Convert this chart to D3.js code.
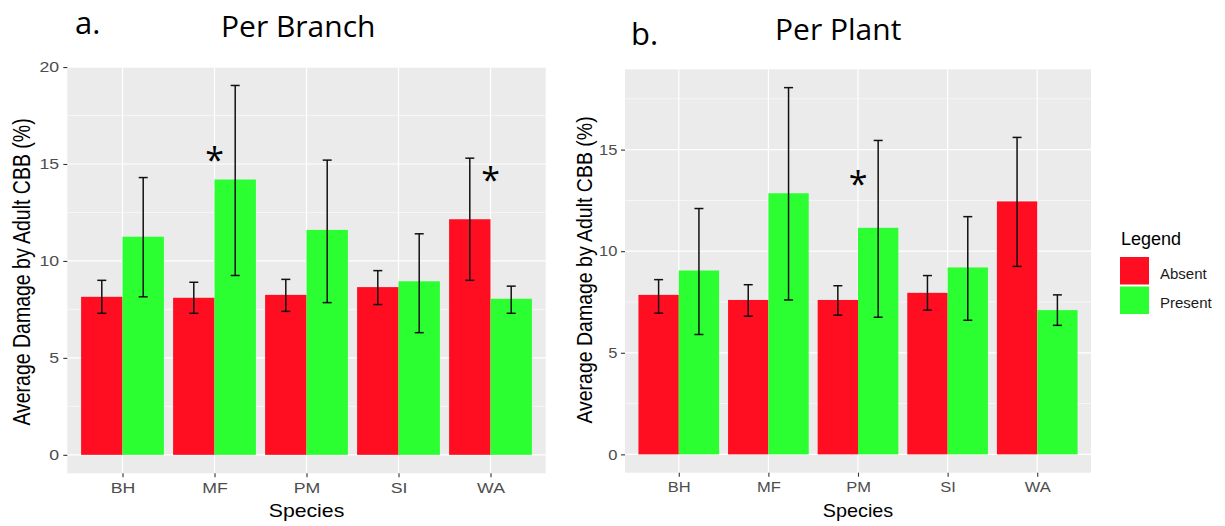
<!DOCTYPE html>
<html>
<head>
<meta charset="utf-8">
<script src="https://cdn.jsdelivr.net/npm/d3@7"></script>
<style>
  body { margin: 0; background: #fff; }
  svg { display: block; }
  .tick text { font-family: "Liberation Sans", Arial, sans-serif; fill: #4d4d4d; }
  .tick line { stroke: #333; }
  .domain { display: none; }
</style>
</head>
<body>
<svg id="chart" width="1225" height="526"></svg>
<script>
// categories and groups
var species = ['BH', 'MF', 'PM', 'SI', 'WA'];
var groups = ['Absent', 'Present'];
var colors = ['#ff0d21', '#2bff32'];

// a. per branch (mean, lower, upper)
var branchAbsent    = [8.15, 8.1, 8.25, 8.65, 12.15];
var branchAbsentLo  = [7.3, 7.3, 7.4, 7.75, 9.0];
var branchAbsentHi  = [9.0, 8.9, 9.05, 9.5, 15.3];
var branchPresent   = [11.25, 14.2, 11.6, 8.95, 8.05];
var branchPresentLo = [8.15, 9.25, 7.85, 6.3, 7.3];
var branchPresentHi = [14.3, 19.05, 15.2, 11.4, 8.7];

// b. per plant
var plantAbsent    = [7.85, 7.6, 7.6, 7.95, 12.45];
var plantAbsentLo  = [6.95, 6.8, 6.85, 7.1, 9.25];
var plantAbsentHi  = [8.6, 8.35, 8.3, 8.8, 15.6];
var plantPresent   = [9.05, 12.85, 11.15, 9.2, 7.1];
var plantPresentLo = [5.9, 7.6, 6.75, 6.6, 6.35];
var plantPresentHi = [12.1, 18.05, 15.45, 11.7, 7.85];

// y ticks and significance stars
var branchTicks = [0, 5, 10, 15, 20];
var plantTicks = [0, 5, 10, 15];
var branchStars = [{sp: 'MF', y: 15.5}, {sp: 'WA', y: 14.5}];
var plantStars = [{sp: 'PM', y: 13.6}];

var svg = d3.select('#chart');

function drawPanel(p) {
  var rows = [];
  species.forEach(function(s, i) {
    rows.push({sp: s, g: 0, v: p.absent[i], lo: p.absentLo[i], hi: p.absentHi[i]});
    rows.push({sp: s, g: 1, v: p.present[i], lo: p.presentLo[i], hi: p.presentHi[i]});
  });

  var maxHi = d3.max(rows, function(d) { return d.hi; });
  var pad = maxHi * 0.05;

  var x = d3.scalePoint().domain(species).range([p.l, p.r]).padding(0.6);
  var step = x.step();
  var y = d3.scaleLinear().domain([-pad, maxHi + pad]).range([p.b, p.t]);

  var g = svg.append('g');

  // panel background
  g.append('rect')
    .attr('x', p.l).attr('y', p.t)
    .attr('width', p.r - p.l).attr('height', p.b - p.t)
    .attr('fill', '#ebebeb');

  // minor grid
  var minor = p.ticks.map(function(t) { return t + 2.5; }).filter(function(t) { return t < maxHi + pad; });
  g.selectAll('.minor').data(minor).enter().append('line')
    .attr('x1', p.l).attr('x2', p.r)
    .attr('y1', function(d) { return y(d); }).attr('y2', function(d) { return y(d); })
    .attr('stroke', '#fff').attr('stroke-width', 0.6);

  // major grid
  g.selectAll('.major').data(p.ticks).enter().append('line')
    .attr('x1', p.l).attr('x2', p.r)
    .attr('y1', function(d) { return y(d); }).attr('y2', function(d) { return y(d); })
    .attr('stroke', '#fff').attr('stroke-width', 1.2);
  g.selectAll('.vmajor').data(species).enter().append('line')
    .attr('y1', p.t).attr('y2', p.b)
    .attr('x1', function(d) { return x(d); }).attr('x2', function(d) { return x(d); })
    .attr('stroke', '#fff').attr('stroke-width', 1.2);

  // bars
  var bw = step * 0.45;
  g.selectAll('.bar').data(rows).enter().append('rect')
    .attr('x', function(d) { return x(d.sp) - bw + d.g * bw; })
    .attr('y', function(d) { return y(d.v); })
    .attr('width', bw)
    .attr('height', function(d) { return y(0) - y(d.v); })
    .attr('fill', function(d) { return colors[d.g]; });

  // error bars
  var cap = 4.5;
  var eb = g.selectAll('.err').data(rows).enter().append('g')
    .attr('transform', function(d) { return 'translate(' + (x(d.sp) - bw / 2 + d.g * bw) + ',0)'; })
    .attr('stroke', '#111').attr('stroke-width', 1.5);
  eb.append('line').attr('x1', 0).attr('x2', 0)
    .attr('y1', function(d) { return y(d.lo); }).attr('y2', function(d) { return y(d.hi); });
  eb.append('line').attr('x1', -cap).attr('x2', cap)
    .attr('y1', function(d) { return y(d.lo); }).attr('y2', function(d) { return y(d.lo); });
  eb.append('line').attr('x1', -cap).attr('x2', cap)
    .attr('y1', function(d) { return y(d.hi); }).attr('y2', function(d) { return y(d.hi); });

  // stars
  g.selectAll('.star').data(p.stars).enter().append('text')
    .attr('x', function(d) { return x(d.sp); })
    .attr('y', function(d) { return y(d.y) + 18; })
    .attr('text-anchor', 'middle')
    .attr('font-family', 'Open Sans, sans-serif')
    .attr('font-size', 34)
    .attr('fill', '#000')
    .text('*');

  // axes
  var ax = g.append('g').attr('transform', 'translate(0,' + p.b + ')')
    .call(d3.axisBottom(x).tickSize(4).tickPadding(5));
  ax.selectAll('text').attr('font-size', 15).attr('transform', 'scale(' + p.sx + ',1)');
  ax.selectAll('line').attr('stroke-width', 1.1);

  var ay = g.append('g').attr('transform', 'translate(' + p.l + ',0)')
    .call(d3.axisLeft(y).tickValues(p.ticks).tickSize(4).tickPadding(3));
  ay.selectAll('text').attr('font-size', 15).attr('transform', 'scale(' + p.sx + ',1)');
  ay.selectAll('line').attr('stroke-width', 1.1);

  // axis titles
  g.append('text')
    .attr('transform', 'translate(' + ((p.l + p.r) / 2) + ',' + (p.b + 44) + ') scale(' + p.sx + ',1)')
    .attr('text-anchor', 'middle')
    .attr('font-family', 'Liberation Sans, Arial, sans-serif')
    .attr('font-size', 18).attr('fill', '#000')
    .text('Species');
  g.append('text')
    .attr('transform', 'translate(' + p.yt + ',' + p.ytc + ') scale(' + p.sx + ',1) rotate(-90)')
    .attr('text-anchor', 'middle')
    .attr('font-family', 'Liberation Sans, Arial, sans-serif')
    .attr('font-size', 19.5).attr('fill', '#000')
    .text('Average Damage by Adult CBB (%)');

  // panel letters and titles
  g.append('text').attr('x', p.lx).attr('y', p.ly)
    .attr('font-family', 'Open Sans, sans-serif').attr('font-size', 31).attr('fill', '#000')
    .text(p.letter);
  g.append('text').attr('x', p.tx).attr('y', p.ty)
    .attr('font-family', 'Open Sans, sans-serif').attr('font-size', 30).attr('fill', '#000')
    .text(p.title);
}

drawPanel({
  absent: branchAbsent, absentLo: branchAbsentLo, absentHi: branchAbsentHi,
  present: branchPresent, presentLo: branchPresentLo, presentHi: branchPresentHi,
  ticks: branchTicks, stars: branchStars,
  l: 67.3, r: 545.7, t: 67, b: 473.3, sx: 1.18,
  yt: 30, ytc: 272,
  letter: 'a.', lx: 75, ly: 34, title: 'Per Branch', tx: 221, ty: 37
});

drawPanel({
  absent: plantAbsent, absentLo: plantAbsentLo, absentHi: plantAbsentHi,
  present: plantPresent, presentLo: plantPresentLo, presentHi: plantPresentHi,
  ticks: plantTicks, stars: plantStars,
  l: 625, r: 1091, t: 69.3, b: 472.7, sx: 1.1,
  yt: 592, ytc: 270,
  letter: 'b.', lx: 631, ly: 45, title: 'Per Plant', tx: 775, ty: 40
});

// legend
var leg = svg.append('g').attr('transform', 'translate(1120,0)');
leg.append('text').attr('x', 1).attr('y', 245)
  .attr('font-family', 'Liberation Sans, Arial, sans-serif')
  .attr('font-size', 18).attr('fill', '#000')
  .text('Legend');
groups.forEach(function(gr, i) {
  leg.append('rect').attr('x', 0).attr('y', 257 + i * 29.5)
    .attr('width', 29).attr('height', 27.5).attr('fill', colors[i]);
  leg.append('text').attr('x', 40).attr('y', 278.5 + i * 29)
    .attr('font-family', 'Liberation Sans, Arial, sans-serif')
    .attr('font-size', 15).attr('fill', '#1a1a1a')
    .text(gr);
});
</script>
</body>
</html>
